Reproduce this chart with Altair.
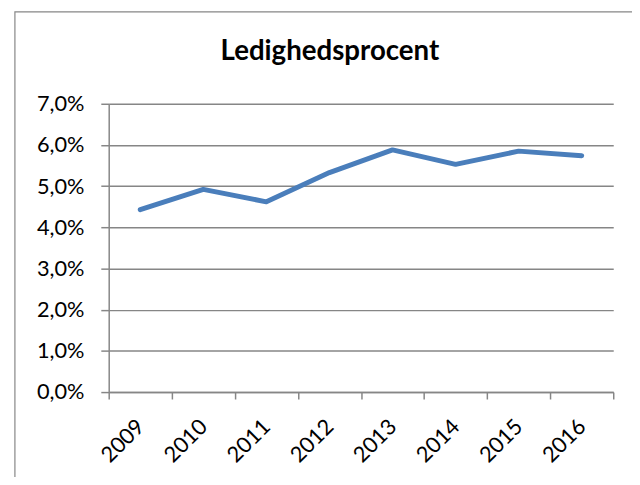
import json
import altair as alt
import pandas as pd

title_text = ["Ledighedsprocent"]
years = ["2009", "2010", "2011", "2012", "2013", "2014", "2015", "2016"]
rates = [4.43, 4.92, 4.62, 5.33, 5.88, 5.53, 5.85, 5.74]
y_ticks = [0, 1, 2, 3, 4, 5, 6, 7]

df = pd.DataFrame({"year": years, "rate": rates})
tdf = pd.DataFrame({"t": title_text})

FONT = "Lato"
GRID = "#868686"
W, H = 511, 292

x_values = [i / 2 for i in range(0, 2 * len(years) + 1)]
label_expr = ("datum.value % 1 == 0 ? '' : " + json.dumps(years).replace('"', "'")
              + "[floor(datum.value)]")

base = alt.Chart(df).transform_window(idx="row_number()").transform_calculate(
    pos="datum.idx - 0.5")

frame = alt.Chart(tdf).mark_rect(fill=None, stroke=GRID, strokeWidth=1.2, clip=False).encode(
    x=alt.value(-95), x2=alt.value(W + 60), y=alt.value(-93), y2=alt.value(H + 100)
)

title = alt.Chart(tdf).mark_text(font=FONT, fontSize=28, fontWeight="bold", color="black",
                                 align="center", baseline="alphabetic", clip=False).encode(
    text="t:N", x=alt.value(224), y=alt.value(-44)
)

line = base.mark_line(color="#4A7EBB", strokeWidth=5, strokeCap="round",
                      strokeJoin="round").encode(
    x=alt.X("pos:Q", title=None,
            scale=alt.Scale(domain=[0, len(years)], nice=False, zero=False),
            axis=alt.Axis(values=x_values, labelExpr=label_expr,
                          labelAngle=-45, labelAlign="right", labelBaseline="middle",
                          tickSize=7, tickColor=GRID, tickWidth=1.5,
                          tickOpacity={"condition": {"test": "datum.value % 1 == 0", "value": 1},
                                       "value": 0},
                          domainColor=GRID, domainWidth=1.5,
                          labelPadding=24, labelFontSize=22, labelFont=FONT,
                          labelColor="black", grid=False, labelFlush=False,
                          labelOverlap=False, labelBound=False)),
    y=alt.Y("rate:Q", title=None,
            scale=alt.Scale(domain=[0, 7], nice=False),
            axis=alt.Axis(values=y_ticks,
                          labelExpr="replace(format(datum.value, '.1f'), '.', ',') + '%'",
                          tickSize=8, tickColor=GRID, tickWidth=1.5,
                          domainColor=GRID, domainWidth=1.5,
                          gridColor=GRID, gridWidth=1.5, grid=True,
                          labelFontSize=22, labelFont=FONT, labelColor="black",
                          labelPadding=17)),
)

chart = alt.layer(frame, title, line).properties(
    width=W, height=H,
    padding={"left": 102, "top": 94, "right": 19, "bottom": 83},
    autosize=alt.AutoSizeParams(type="none"),
).configure_view(stroke=None)

chart.save("out.html", embed_options={"renderer": "svg", "actions": False})
